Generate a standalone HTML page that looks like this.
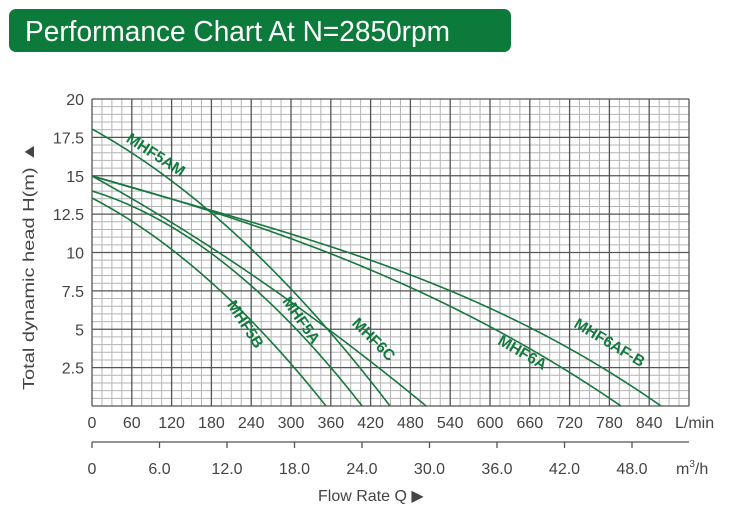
<!DOCTYPE html>
<html><head><meta charset="utf-8"><style>
html,body{margin:0;padding:0;background:#fff;}
svg{display:block;font-family:"Liberation Sans",sans-serif;}
</style></head><body>
<svg id="s" width="750" height="518" viewBox="0 0 750 518" xmlns="http://www.w3.org/2000/svg">
<rect x="9" y="9" width="502" height="43" rx="7" fill="#0b7a3b"/>
<text x="25" y="41" font-size="29" fill="#fff" textLength="425" lengthAdjust="spacingAndGlyphs">Performance Chart At N=2850rpm</text>
<g id="grid"></g>
<g id="curves" fill="none" stroke="#17773f" stroke-width="1.6" stroke-linejoin="round"></g>
<g font-size="15.5" font-weight="bold" fill="#137a3f">
<text transform="translate(153,159) rotate(33)" text-anchor="middle">MHF5AM</text>
<text transform="translate(241,327) rotate(57)" text-anchor="middle">MHF5B</text>
<text transform="translate(297,323) rotate(55)" text-anchor="middle">MHF5A</text>
<text transform="translate(370,343) rotate(45)" text-anchor="middle">MHF6C</text>
<text transform="translate(520,357) rotate(30)" text-anchor="middle">MHF6A</text>
<text transform="translate(607,347) rotate(31)" text-anchor="middle">MHF6AF-B</text>
</g>
<g id="labels" font-size="16" fill="#444"></g>
<line x1="92" y1="442" x2="689" y2="442" stroke="#555" stroke-width="1.3"/>
<text x="676" y="474" font-size="16" fill="#444">m<tspan font-size="10" dy="-7">3</tspan><tspan dy="7">/h</tspan></text>
<text x="675" y="428" font-size="16" fill="#444">L/min</text>
<text x="318" y="501" font-size="16" fill="#444">Flow Rate Q ▶</text>
<text transform="translate(34,266) rotate(-90)" text-anchor="middle" font-size="16" fill="#444" textLength="248" lengthAdjust="spacingAndGlyphs">Total dynamic head H(m) ▲</text>
</svg>
<script>
var NS="http://www.w3.org/2000/svg";
function el(p,t,a,txt){var e=document.createElementNS(NS,t);for(var k in a)e.setAttribute(k,a[k]);if(txt!=null)e.textContent=txt;p.appendChild(e);return e;}
var g=document.getElementById('grid'),L=document.getElementById('labels');
var x0=92,x1=689,y0=99,y1=406;
var dx=(x1-x0)/60, dy=(y1-y0)/40;
for(var i=0;i<=60;i++){if(i%4)el(g,'line',{x1:x0+i*dx,y1:y0,x2:x0+i*dx,y2:y1,stroke:'#b4b4b4','stroke-width':1});}
for(var j=0;j<=40;j++){if(j%5)el(g,'line',{x1:x0,y1:y0+j*dy,x2:x1,y2:y0+j*dy,stroke:'#b4b4b4','stroke-width':1});}
for(var i=0;i<=60;i+=4)el(g,'line',{x1:x0+i*dx,y1:y0,x2:x0+i*dx,y2:y1,stroke:'#555','stroke-width':1.3});
for(var j=0;j<=40;j+=5)el(g,'line',{x1:x0,y1:y0+j*dy,x2:x1,y2:y0+j*dy,stroke:'#555','stroke-width':1.3});
var yl=['20','17.5','15','12.5','10','7.5','5','2.5'];
for(var j=0;j<8;j++)el(L,'text',{x:84,y:y0+j*5*dy+6,'text-anchor':'end'},yl[j]);
for(var i=0;i<=14;i++)el(L,'text',{x:x0+i*4*dx,y:428,'text-anchor':'middle'},String(i*60));
var m=['0','6.0','12.0','18.0','24.0','30.0','36.0','42.0','48.0'];
for(var i=0;i<9;i++){var x=92+i*67.5;el(L,'line',{x1:x,y1:442,x2:x,y2:448,stroke:'#555','stroke-width':1.3});el(L,'text',{x:x,y:474,'text-anchor':'middle'},m[i]);}
var C=document.getElementById('curves');
var cs=[[129,0.551,0.00127,0],[198,0.520,0.001576,0],[191,0.307,0.00181,0],[176,0.552,0.000408,0],
[176,0.2967,-1.417e-4,5.81e-7],[176,0.2778,1.201e-4,3.341e-7]];
cs.forEach(function(c){var d='',u=0;for(;;u+=1){var y=c[0]+c[1]*u+c[2]*u*u+c[3]*u*u*u;
if(y>=406){var yp=c[0]+c[1]*(u-1)+c[2]*(u-1)*(u-1)+c[3]*(u-1)*(u-1)*(u-1);var f=(406-yp)/(y-yp);d+=' L'+(92+u-1+f).toFixed(2)+',406';break;}
d+=(u?' L':'M')+(92+u)+','+y.toFixed(2);}
el(C,'path',{d:d});});
</script>
</body></html>
